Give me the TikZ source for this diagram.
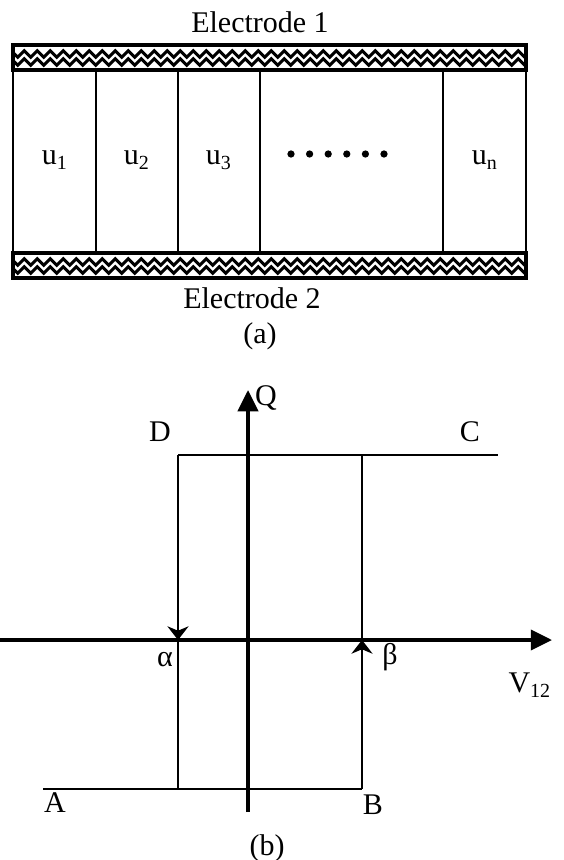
\documentclass[tikz,border=0pt]{standalone}
\usepackage{fontspec}
\setmainfont{Liberation Serif}
\usetikzlibrary{arrows.meta,decorations.pathmorphing}

\tikzset{
  electrode/.style={line width=1.15pt,decorate,decoration={zigzag,segment length=5.2pt,amplitude=1.3pt}},
  axis/.style={line width=1.6pt,-{Triangle[length=8.5pt,width=8pt]}},
  branch/.style={line width=.6pt},
  flow/.style={line width=.6pt,-{Stealth[length=5.5pt,width=8.5pt]}},
}

\begin{document}
\begin{tikzpicture}[x=.4pt,y=-.4pt,font=\fontsize{12}{14}\selectfont]
  \useasboundingbox (0,0) rectangle (564,860);

  % (a) the cells between the two electrodes
  \foreach \y in {45,253} {
    \begin{scope}
      \clip (13,\y) rectangle (526,\y+25);
      \foreach \dy in {9,17}
        \draw[electrode] (8,\y+\dy) -- (535,\y+\dy);
    \end{scope}
    \draw[line width=1.5pt] (13,\y) rectangle (526,\y+25);
  }
  \foreach \x in {13,96,178,260,443,526}
    \draw[branch] (\x,70) -- (\x,253);
  \node (top) at (260,22) {Electrode 1};
  \node (bot) at (252,298) {Electrode 2};
  \node (u1) at (55,160) {u\textsubscript{1}};
  \node (u2) at (137,160) {u\textsubscript{2}};
  \node (u3) at (219,160) {u\textsubscript{3}};
  \node (un) at (485,160) {u\textsubscript{n}};
  \foreach \i in {0,...,5}
    \fill (291+\i*18.6,154) circle[radius=1.45pt];
  \node (capa) at (260,336) {(a)};

  % (b) the Q-V loop
  \coordinate (O) at (248,640);
  \coordinate (xl) at (0,640);
  \coordinate (xr) at (552,640);
  \coordinate (yb) at (248,812);
  \coordinate (yt) at (248,390);
  \coordinate (pA) at (43,789);
  \coordinate (pB) at (362,789);
  \coordinate (pb) at (362,640);
  \coordinate (pBt) at (362,455);
  \coordinate (pDb) at (178,789);
  \coordinate (pa) at (178,640);
  \coordinate (pD) at (178,455);
  \coordinate (pC) at (498,455);

  \draw[branch] (pA) -- (pB);
  \draw[branch] (pD) -- (pC);
  \draw[flow] (pB) -- (pb);
  \draw[branch] (pb) -- (pBt);
  \draw[flow] (pD) -- (pa);
  \draw[branch] (pa) -- (pDb);
  \draw[axis] (xl) -- (xr);
  \draw[axis] (yb) -- (yt);

  \node (Q) at (266,398) {Q};
  \node (V) at (530,685) {V\textsubscript{12}};
  \node (A) at (55,803) {A};
  \node (B) at (373,805) {B};
  \node (C) at (470,432) {C};
  \node (D) at (160,432) {D};
  \node (al) at (165,660) {α};
  \node (be) at (390,657) {β};
  \node (capb) at (267,848) {(b)};
\end{tikzpicture}
\end{document}
